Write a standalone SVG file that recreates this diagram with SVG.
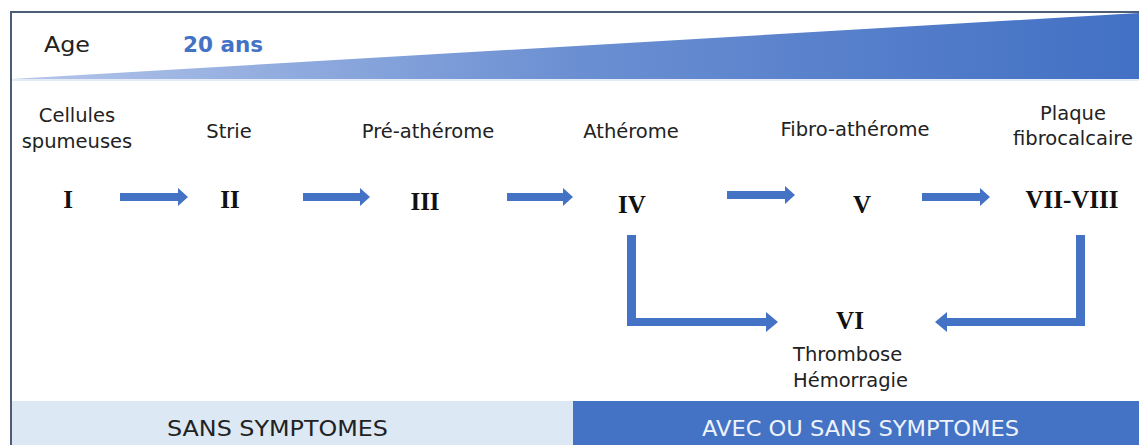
<svg xmlns="http://www.w3.org/2000/svg" width="1139" height="445" viewBox="0 0 1139 445">
<defs>
<linearGradient id="wedge" x1="0" y1="0" x2="1" y2="0">
<stop offset="0" stop-color="#b4c6ea"/>
<stop offset="0.5" stop-color="#6b8fd2"/>
<stop offset="1" stop-color="#4270c4"/>
</linearGradient>
<style>
.lbl{font-family:"DejaVu Sans","Liberation Sans",sans-serif;font-size:19.5px;fill:#222;text-anchor:middle}
.lbs{font-family:"DejaVu Sans","Liberation Sans",sans-serif;font-size:19.5px;fill:#222}
.rom{font-family:"Liberation Serif","Times New Roman",serif;font-size:25px;font-weight:bold;fill:#111;text-anchor:middle}
.arr{fill:#4472c4}
.band{font-family:"DejaVu Sans","Liberation Sans",sans-serif;font-size:21px}
</style>
</defs>
<rect width="1139" height="445" fill="#fff"/>
<g id="frame">
<path d="M11 445 V12 H1139" fill="none" stroke="#4d5d78" stroke-width="2"/>
<polygon points="12,79 1139,13 1139,79" fill="url(#wedge)"/>
<line x1="12" y1="80" x2="1139" y2="80" stroke="#dde6f5" stroke-width="1.5"/>
<text x="44" y="52" font-family="DejaVu Sans, Liberation Sans, sans-serif" font-size="22" fill="#222" textLength="46" lengthAdjust="spacingAndGlyphs">Age</text>
<text x="183" y="52" font-family="DejaVu Sans, Liberation Sans, sans-serif" font-size="21.5" font-weight="bold" fill="#4472c4" textLength="80" lengthAdjust="spacingAndGlyphs">20 ans</text>
</g>
<g id="bands">
<rect x="12" y="401" width="561" height="44" fill="#dde8f5"/>
<rect x="573" y="401" width="566" height="44" fill="#4472c4"/>
<text class="band" x="167" y="436" fill="#222" textLength="221" lengthAdjust="spacingAndGlyphs">SANS SYMPTOMES</text>
<text class="band" x="702" y="436" fill="#eef2fa" textLength="317" lengthAdjust="spacingAndGlyphs">AVEC OU SANS SYMPTOMES</text>
</g>
<g id="stage-I"><text class="lbl" x="77" y="122">Cellules</text><text class="lbl" x="77" y="148">spumeuses</text><text class="rom" x="68" y="208">I</text></g>
<g id="stage-II"><text class="lbl" x="229" y="138">Strie</text><text class="rom" x="230" y="208">II</text></g>
<g id="stage-III"><text class="lbl" x="428" y="138">Pré-athérome</text><text class="rom" x="425" y="210">III</text></g>
<g id="stage-IV"><text class="lbl" x="631" y="138">Athérome</text><text class="rom" x="632" y="213">IV</text></g>
<g id="stage-V"><text class="lbl" x="855" y="136">Fibro-athérome</text><text class="rom" x="862" y="213">V</text></g>
<g id="stage-VII-VIII"><text class="lbl" x="1073" y="120">Plaque</text><text class="lbl" x="1073" y="145">fibrocalcaire</text><text class="rom" x="1072" y="208">VII-VIII</text></g>
<g id="stage-VI"><text class="rom" x="850" y="329">VI</text><text class="lbs" x="793" y="361">Thrombose</text><text class="lbs" x="793" y="387">Hémorragie</text></g>
<g id="connectors">
<polygon class="arr" points="120,193 178,193 178,188 188,197 178,206 178,201 120,201"/>
<polygon class="arr" points="303,193 360,193 360,188 370,197 360,206 360,201 303,201"/>
<polygon class="arr" points="507,193 563,193 563,188 573,197 563,206 563,201 507,201"/>
<polygon class="arr" points="727,191 785,191 785,186 795,195 785,204 785,199 727,199"/>
<polygon class="arr" points="922,193 980,193 980,188 990,197 980,206 980,201 922,201"/>
<polygon class="arr" points="627,235 636,235 636,318 766,318 766,312 778,322 766,332 766,326 627,326"/>
<polygon class="arr" points="1076,235 1085,235 1085,326 947,326 947,332 935,322 947,312 947,318 1076,318"/>
</g>
</svg>
